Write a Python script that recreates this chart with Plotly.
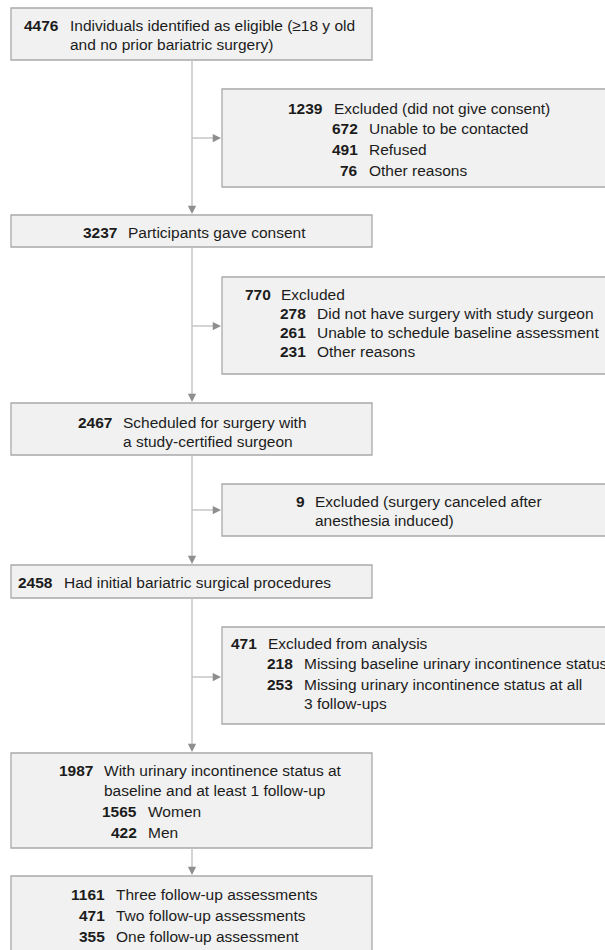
import plotly.graph_objects as go

# ---------------- data (counts and labels) ----------------
box_counts = [
    [4476],
    [1239, 672, 491, 76],
    [3237],
    [770, 278, 261, 231],
    [2467],
    [9],
    [2458],
    [471, 218, 253],
    [1987, 1565, 422],
    [1161, 471, 355],
]
box_labels = [
    ["Individuals identified as eligible (≥18 y old\nand no prior bariatric surgery)"],
    ["Excluded (did not give consent)", "Unable to be contacted", "Refused", "Other reasons"],
    ["Participants gave consent"],
    ["Excluded", "Did not have surgery with study surgeon",
     "Unable to schedule baseline assessment", "Other reasons"],
    ["Scheduled for surgery with\na study-certified surgeon"],
    ["Excluded (surgery canceled after\nanesthesia induced)"],
    ["Had initial bariatric surgical procedures"],
    ["Excluded from analysis", "Missing baseline urinary incontinence status",
     "Missing urinary incontinence status at all\n3 follow-ups"],
    ["With urinary incontinence status at\nbaseline and at least 1 follow-up", "Women", "Men"],
    ["Three follow-up assessments", "Two follow-up assessments", "One follow-up assessment"],
]
box_levels = [
    [0], [0, 1, 1, 1], [0], [0, 1, 1, 1], [0], [0], [0], [0, 1, 1], [0, 1, 1], [0, 0, 0],
]

# ---------------- layout (pixel geometry) ----------------
W, H = 605, 950
box_rects = [
    (11, 8, 372, 60),
    (222, 89, 612, 187),
    (11, 215, 372, 247),
    (222, 277, 612, 374),
    (11, 403, 372, 455),
    (222, 484, 612, 536),
    (11, 565, 372, 598),
    (222, 627, 612, 724),
    (11, 753, 372, 848),
    (11, 876, 372, 965),
]
# y centre of every printed line, per box
line_ys = [
    [25, 44.5],
    [108.7, 128.5, 149.3, 170.3],
    [232],
    [294, 313.3, 332.7, 351.7],
    [422.7, 441.7],
    [501.7, 520.5],
    [582.5],
    [643.3, 663.5, 684, 703.3],
    [770.7, 790.3, 811.3, 832.3],
    [894.5, 915.8, 936.7],
]
# right edge of the number column for level 0 / level 1; label gap
num_right = [
    (60, None), (324, 359), (118, None), (271.7, 307), (113, None),
    (305.7, None), (54, None), (258.3, 294), (94.3, 138.3), (106, None),
]
GAP = 8.5

spine_x = 192
branch_ys = [138, 326, 510, 677]
branch_x1 = 222

FONT = "Liberation Sans, Arial, sans-serif"
FS = 15.5
TXT = "#1c1c1c"
FILL = "#f1f1f1"
EDGE = "#a9a9a9"
LINE = "#c6c6c6"
HEAD = "#8e8e8e"

fig = go.Figure()
shapes = []
annotations = []

for (x0, y0, x1, y1) in box_rects:
    shapes.append(dict(type="rect", xref="x", yref="y", x0=x0, y0=y0, x1=x1, y1=y1,
                       fillcolor=FILL, line=dict(color=EDGE, width=1.3), layer="below"))

for b, (counts, labels, levels) in enumerate(zip(box_counts, box_labels, box_levels)):
    ys = line_ys[b]
    li = 0
    for n, lab, lv in zip(counts, labels, levels):
        xr = num_right[b][lv]
        annotations.append(dict(x=xr, y=ys[li], xref="x", yref="y", text=f"<b>{n}</b>",
                                showarrow=False, xanchor="right", yanchor="middle",
                                borderpad=0, font=dict(family=FONT, size=FS, color=TXT)))
        for part in lab.split("\n"):
            annotations.append(dict(x=xr + GAP, y=ys[li], xref="x", yref="y", text=part,
                                    showarrow=False, xanchor="left", yanchor="middle",
                                    borderpad=0, font=dict(family=FONT, size=FS, color=TXT)))
            li += 1

# connectors: spine between consecutive main boxes
main_idx = [0, 2, 4, 6, 8, 9]
for a, c in zip(main_idx[:-1], main_idx[1:]):
    ya = box_rects[a][3]
    yc = box_rects[c][1]
    shapes.append(dict(type="line", xref="x", yref="y", x0=spine_x, x1=spine_x, y0=ya, y1=yc - 4,
                       line=dict(color=LINE, width=1.5)))
    annotations.append(dict(x=spine_x, y=yc - 1, ax=spine_x, ay=yc - 6, xref="x", yref="y",
                            axref="x", ayref="y", text="", showarrow=True, arrowhead=2,
                            arrowsize=1.1, arrowwidth=1.5, arrowcolor=HEAD, standoff=0))
for by in branch_ys:
    shapes.append(dict(type="line", xref="x", yref="y", x0=spine_x, x1=branch_x1 - 4, y0=by, y1=by,
                       line=dict(color=LINE, width=1.5)))
    annotations.append(dict(x=branch_x1 - 1, y=by, ax=branch_x1 - 6, ay=by, xref="x", yref="y",
                            axref="x", ayref="y", text="", showarrow=True, arrowhead=2,
                            arrowsize=1.1, arrowwidth=1.5, arrowcolor=HEAD, standoff=0))

fig.update_layout(
    width=W, height=H, margin=dict(l=0, r=0, t=0, b=0),
    paper_bgcolor="white", plot_bgcolor="white",
    xaxis=dict(range=[0, W], visible=False, fixedrange=True),
    yaxis=dict(range=[H, 0], visible=False, fixedrange=True),
    shapes=shapes, annotations=annotations, showlegend=False,
)
fig.write_html(
    "out.html",
    config={"displayModeBar": False},
    post_script="document.body.style.margin='0';document.body.style.overflow='hidden';",
)
